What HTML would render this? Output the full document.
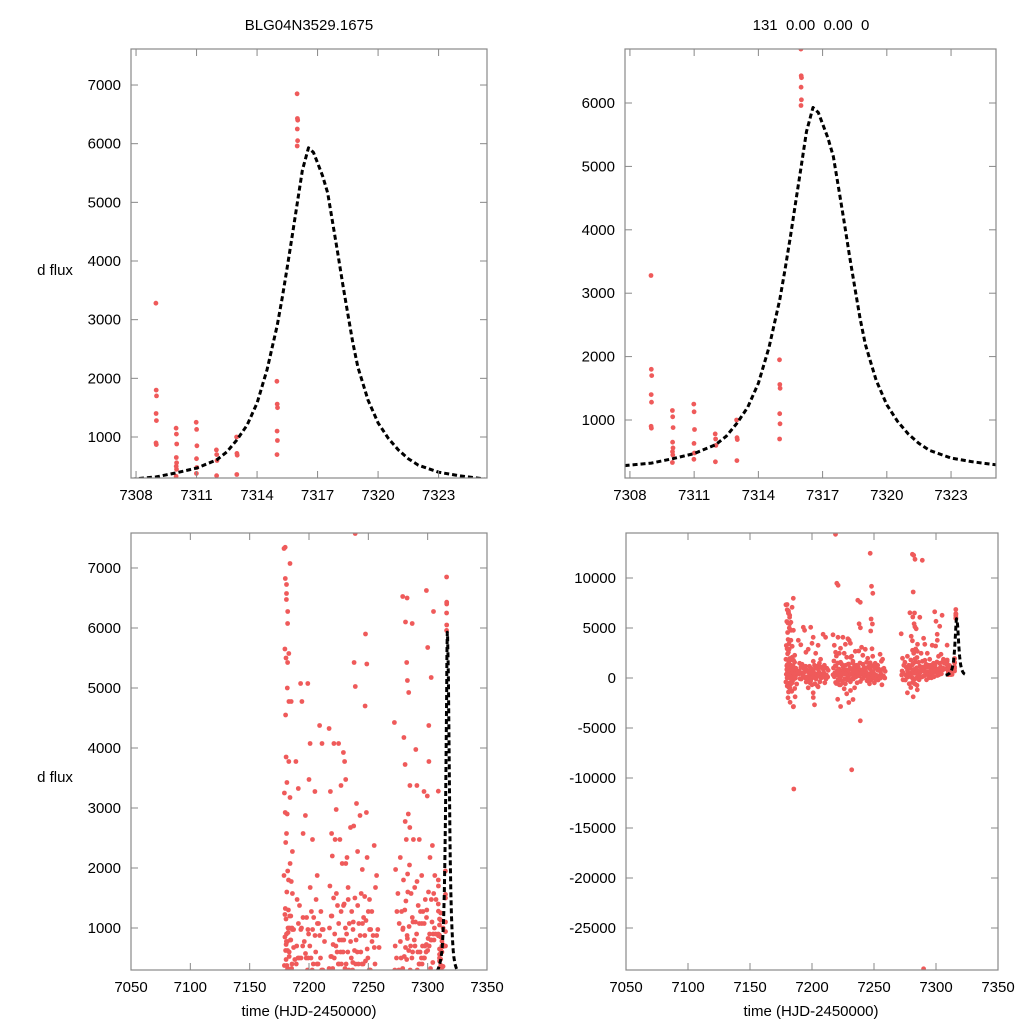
<!DOCTYPE html>
<html><head><meta charset="utf-8">
<style>
html,body{margin:0;padding:0;background:#fff;overflow:hidden;width:1024px;height:1024px;}
svg{display:block;font-family:"Liberation Sans",sans-serif;}
</style></head>
<body>
<svg id="root" width="1024" height="1024" viewBox="0 0 1024 1024" xmlns="http://www.w3.org/2000/svg">
<rect width="1024" height="1024" fill="#fff"/>
<text x="309" y="30" font-size="15" text-anchor="middle">BLG04N3529.1675</text>
<text x="811" y="30" font-size="15" text-anchor="middle" xml:space="preserve">131  0.00  0.00  0</text>
<text x="55" y="275" font-size="15" text-anchor="middle">d flux</text>
<text x="55" y="782" font-size="15" text-anchor="middle">d flux</text>
<text x="309" y="1016" font-size="15" text-anchor="middle">time (HJD-2450000)</text>
<text x="811" y="1016" font-size="15" text-anchor="middle">time (HJD-2450000)</text>
</svg>
<script>
// Zoomed-in observations near peak
const peakNights = [7309,7310,7311,7312,7313,7315,7316];
const peakFlux = [
 [3280,1800,1700,1400,1280,900,870],
 [1150,1050,880,650,560,500,450,330],
 [1250,1130,850,630,480,380],
 [780,700,600,340],
 [1000,720,690,360],
 [1950,1560,1500,1100,940,700],
 [6850,6430,6400,6250,6050,5960]
];
// Full-season observations
const seasonNights = [7180,7181,7182,7183,7184,7185,7186,7187,7190,7192,7194,7196,7198,7200,7202,7204,7206,7208,7210,7212,7218,7220,7222,7224,7226,7228,7230,7232,7234,7236,7238,7240,7242,7244,7246,7248,7250,7252,7254,7256,7258,7273,7276,7278,7280,7282,7284,7286,7288,7290,7292,7294,7296,7298,7300,7302,7304,7306];
const seasonFlux = [
 [7450,6850,6500,5750,3850,3150,2500,1850,1200,950,800,600,400,200,-300,-800,-1500,1300,700],
 [7470,6750,6200,5600,5000,4450,3500,2900,2450,2000,1100,900,650,300,100,-500,-1100,-1900],
 [6600,5450,4700,3000,1800,1500,1000,750,500,250,0,-400,-900,-2500],
 [6200,3800,2000,1400,1200,900,600,300,150,-200,-700,-1200],
 [5700,3200,1700,1100,800,500,200,-100,-600,-2800],
 [7200,4800,2200,1300,1000,700,400,100,-300,-1000],
 [8100,1600,900,500,200,-11200,-1800,-2900],
 [1100,700,400,100,-600],
 [3900,1500,1000,800,500,300,0],
 [3450,1400,900,600,200,-200],
 [5200,4800,2500,1100,700,400,100],
 [1300,800,500,200,-100,-500],
 [3000,1200,900,600,300,0,-400,-1000],
 [5200,3500,1600,1000,700,400,100,-300,-800,-1900],
 [4200,1300,900,600,300,0,-500,-1500,-2800],
 [2600,1200,800,500,200,-200,-700],
 [3400,1500,1000,700,400,100,-300,-900],
 [2000,1100,800,500,200,-100],
 [4500,1300,900,600,300,0,-400],
 [4200,1000,700,400,100,-200],
 [4450,3300,2500,1800,1200,900,600,300,0,-400],
 [14500,9500,9200,2300,1500,1100,800,500,200,-100,-600,-2000],
 [4200,2500,1500,1000,700,400,100,-300,-800,-2800],
 [3100,1400,1000,700,400,100,-200,-700],
 [4200,2500,1200,900,600,300,0,-500,-1200],
 [3500,2100,1300,900,600,300,-100,-600,-1700],
 [4050,3800,2000,1500,1000,700,400,100,-300,-1200,-2500],
 [3600,2200,1400,1000,600,300,0,-400,-9300,-2100],
 [1800,1100,700,400,100,-200,-900],
 [2800,1300,900,600,300,0,-400],
 [7900,5450,4950,2800,1500,1000,700,400,100,-300],
 [7700,3100,1300,900,600,300,0,-4300],
 [2400,1100,800,500,200,-100],
 [3000,1600,1000,700,400,100,-200],
 [2100,1200,800,500,200,-100,-500],
 [12600,9200,8400,6000,5400,4600,3000,1500,1000,700,400,100,-200],
 [2300,1300,900,600,300,0,-400],
 [1600,1000,700,400,100,-200],
 [1400,900,600,300,0,-300],
 [2500,1700,800,500,200,-100,-600],
 [2000,1000,600,300,0],
 [4550,2000,1200,800,500,200,-100],
 [1700,1100,700,400,100,-300],
 [2300,1300,900,600,300,0,-500,-1500],
 [6650,4200,2700,1900,1300,900,600,300,0,-400,-1000],
 [12500,12300,11800,8700,6500,6000,5500,3700,2350,1950,1400,1000,700,400,100,-200,-700,-1800],
 [5250,4950,3300,3000,2050,1500,1100,800,500,200,-100,-600],
 [2800,1600,1100,800,500,200,-100,-1200],
 [6200,2500,1600,1200,800,500,200,0],
 [11900,4000,1700,1200,900,600,300,100,-29200],
 [3500,1400,1000,700,400,200,-100],
 [2600,1300,1000,700,500,300,100],
 [2000,1300,1000,800,500,300,100],
 [3400,1500,1100,800,600,400,200],
 [6750,5700,3700,3300,1600,1200,900,700,500,300],
 [4500,2200,1400,1000,800,600,400],
 [5300,2400,1500,1200,900,700,500],
 [6400,1900,1400,1100,900,700]
];
// Model curve samples
const modelT = [7307.75,7309,7310,7311,7312,7312.5,7313,7313.5,7314,7314.5,7315,7315.25,7315.5,7315.75,7316,7316.25,7316.55,7316.8,7317,7317.25,7317.5,7317.75,7318,7318.25,7318.5,7318.75,7319,7319.5,7320,7320.5,7321,7321.5,7322,7323,7324,7325.4];
const modelF = [280,320,390,470,610,745,950,1200,1580,2150,2900,3380,3900,4450,5000,5550,5930,5850,5670,5450,5160,4650,4140,3600,3100,2600,2190,1630,1240,980,780,630,520,400,340,280];

const yTicksTL = [1000,2000,3000,4000,5000,6000,7000];
const yTicksTR = [1000,2000,3000,4000,5000,6000];
const yTicksBR = [-25000,-20000,-15000,-10000,-5000,0,5000,10000];
const xTicksTop = [7308,7311,7314,7317,7320,7323];
const xTicksBot = [7050,7100,7150,7200,7250,7300,7350];

const NS='http://www.w3.org/2000/svg';
const root=document.getElementById('root');
function el(tag,attrs,parent){const e=document.createElementNS(NS,tag);for(const k in attrs)e.setAttribute(k,attrs[k]);(parent||root).appendChild(e);return e;}

function panel(name,box,xr,yr,xt,yt,pts,showModel){
  const g=el('g',{});
  
  
  const sx=v=>box.x0+(v-xr[0])/(xr[1]-xr[0])*(box.x1-box.x0);
  const sy=v=>box.y1-(v-yr[0])/(yr[1]-yr[0])*(box.y1-box.y0);
  const cid='clip-'+name;
  const cp=el('clipPath',{id:cid},g);
  el('rect',{x:box.x0,y:box.y0,width:box.x1-box.x0,height:box.y1-box.y0},cp);
  const pg=el('g',{'clip-path':'url(#'+cid+')'},g);
  
  
  pts.forEach(p=>{
    const c=el('circle',{cx:sx(p[0]).toFixed(1),cy:sy(p[1]).toFixed(1),r:2.4,fill:'#ef5a5a'},pg);
    
    
  });
  if(showModel){
    const d=modelT.map((t,i)=>(i?'L':'M')+sx(t).toFixed(1)+' '+sy(modelF[i]).toFixed(1)).join(' ');
    const m=el('path',{d:d,fill:'none',stroke:'#000','stroke-width':3,'stroke-dasharray':'5,3','stroke-linejoin':'round','clip-path':'url(#'+cid+')'},g);
    
    
  }
  const fr=el('rect',{x:box.x0,y:box.y0,width:box.x1-box.x0,height:box.y1-box.y0,fill:'none',stroke:'#888','stroke-width':1.2},g);
  
  
  xt.forEach(v=>{
    const x=sx(v);
    el('line',{x1:x,x2:x,y1:box.y1,y2:box.y1-7,stroke:'#888'},g);
    el('line',{x1:x,x2:x,y1:box.y0,y2:box.y0+7,stroke:'#888'},g);
    const t=el('text',{x:x,y:box.y1+22,'font-size':15,'text-anchor':'middle'},g);
    t.textContent=v;
    
    
  });
  yt.forEach(v=>{
    const y=sy(v);
    el('line',{x1:box.x0,x2:box.x0+7,y1:y,y2:y,stroke:'#888'},g);
    el('line',{x1:box.x1,x2:box.x1-7,y1:y,y2:y,stroke:'#888'},g);
    const t=el('text',{x:box.x0-10,y:y+5,'font-size':15,'text-anchor':'end'},g);
    t.textContent=v;
    
    
  });
}
function jitter(nights,flux,step,fstep){
  const out=[];
  nights.forEach((t,i)=>flux[i].forEach((f,j)=>out.push([t+((j*3)%7-3)*step,f+((j*37)%11-5)*fstep])));
  return out;
}
const peakPts=jitter(peakNights,peakFlux,0.005,0);
const allPts=jitter(seasonNights,seasonFlux,0.35,25).concat(peakPts);

panel('panel-zoom-left',{x0:131,x1:487,y0:49,y1:478},[7307.75,7325.4],[301,7614],xTicksTop,yTicksTL,peakPts,true);
panel('panel-zoom-right',{x0:625,x1:996,y0:49,y1:478},[7307.77,7325.1],[85,6852],xTicksTop,yTicksTR,peakPts,true);
panel('panel-season-left',{x0:131,x1:487,y0:533,y1:970},[7050,7350],[300,7583],xTicksBot,yTicksTL,allPts,true);
panel('panel-season-right',{x0:626,x1:998,y0:533,y1:970},[7050,7350],[-29200,14500],xTicksBot,yTicksBR,allPts,true);
</script>
</body></html>
